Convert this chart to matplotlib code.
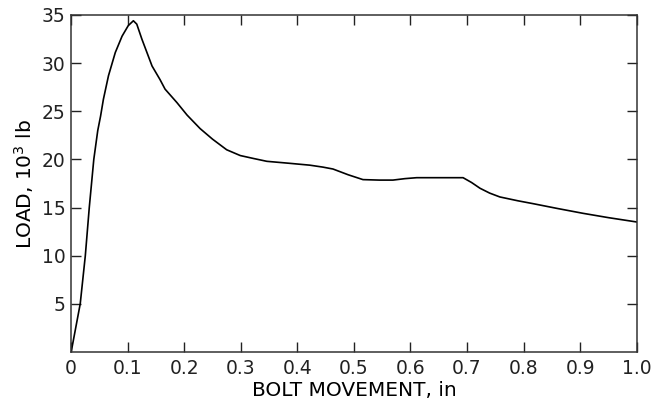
import numpy as np
import matplotlib.pyplot as plt

# bolt movement (in) and load (10^3 lb)
movement = [0.0, 0.016, 0.025, 0.032, 0.040, 0.047, 0.052, 0.057, 0.066, 0.078,
            0.090, 0.101, 0.110, 0.116, 0.125, 0.134, 0.143, 0.157, 0.166,
            0.187, 0.205, 0.228, 0.250, 0.275, 0.299, 0.322, 0.346, 0.385,
            0.422, 0.445, 0.463, 0.490, 0.516, 0.545, 0.569, 0.590, 0.611,
            0.650, 0.693, 0.708, 0.723, 0.740, 0.758, 0.790, 0.817, 0.860,
            0.905, 0.950, 1.0]
load = [0.0, 5.0, 10.0, 15.0, 20.0, 23.0, 24.5, 26.25, 28.7, 31.1,
        32.8, 33.9, 34.4, 34.05, 32.5, 31.1, 29.7, 28.3, 27.3,
        25.9, 24.6, 23.2, 22.1, 21.0, 20.4, 20.1, 19.8, 19.6,
        19.4, 19.2, 19.0, 18.4, 17.9, 17.85, 17.85, 18.0, 18.1,
        18.1, 18.1, 17.6, 17.0, 16.5, 16.1, 15.7, 15.4, 14.9,
        14.4, 13.95, 13.5]

x_ticks = [0, 0.1, 0.2, 0.3, 0.4, 0.5, 0.6, 0.7, 0.8, 0.9, 1.0]
x_labels = ["0", "0.1", "0.2", "0.3", "0.4", "0.5", "0.6", "0.7", "0.8", "0.9", "1.0"]
y_ticks = [5, 10, 15, 20, 25, 30, 35]

plt.rcParams['font.family'] = ['DejaVu Sans']

fig = plt.figure(figsize=(6.53, 4.05), dpi=100)
ax = fig.add_axes([0.109, 0.131, 0.866, 0.832])

ax.plot(movement, load, color='black', lw=1.2, solid_joinstyle='round')

ax.set_xlim(0, 1.0)
ax.set_ylim(0, 35)
ax.set_xticks(x_ticks)
ax.set_xticklabels(x_labels)
ax.set_yticks(y_ticks)
ax.tick_params(direction='in', length=7, width=1.0, top=True, right=True,
               labelsize=13.5, colors='#222222')
ax.tick_params(axis='x', pad=5)
ax.tick_params(axis='y', pad=4)
for s in ax.spines.values():
    s.set_linewidth(1.1)
    s.set_color('#333333')

ax.set_xlabel("BOLT MOVEMENT, in", fontsize=14.5, labelpad=2)
ax.set_ylabel("LOAD, 10$^3$ lb", fontsize=14.5, labelpad=4)

fig.savefig("out.png", dpi=100)
